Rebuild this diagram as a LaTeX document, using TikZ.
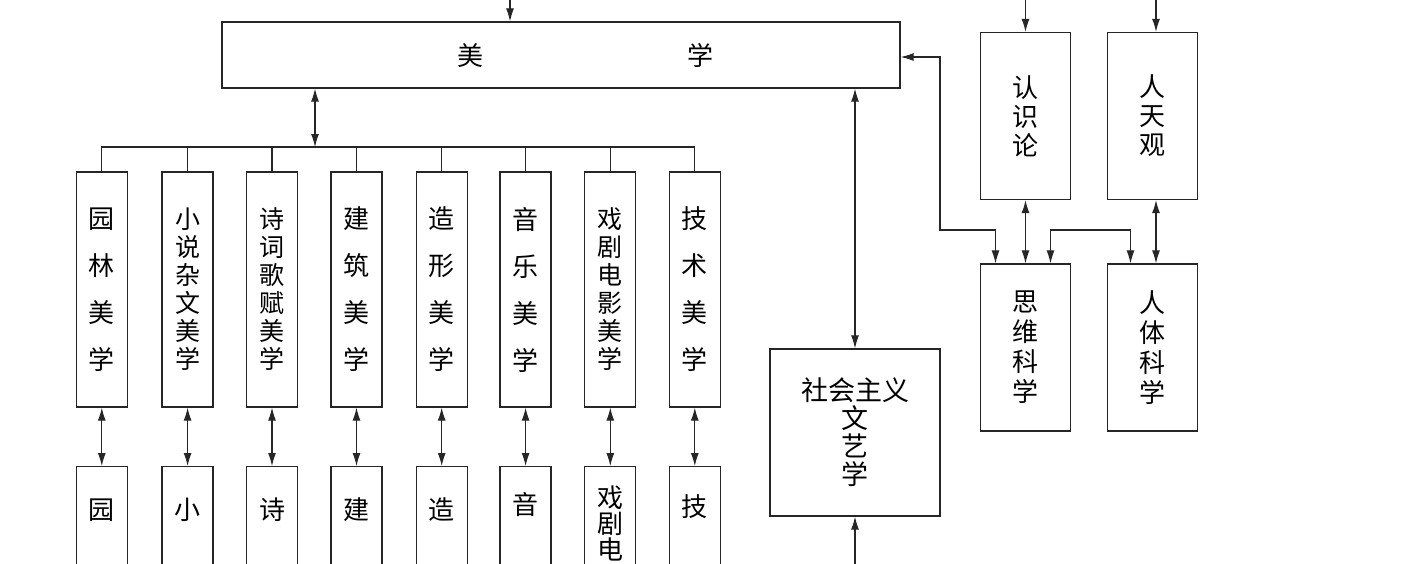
\documentclass[tikz,border=0pt]{standalone}
\usepackage{fontspec}
\newfontfamily\cjk{Noto Sans CJK SC}
\usepackage{tikz}
\usetikzlibrary{arrows.meta,positioning,calc}

\begin{document}
\begin{tikzpicture}[
    x=1pt,y=-1pt,
    box/.style={draw=black!85, line width=1.3pt, fill=white, inner sep=0pt, align=center, font=\cjk\fontsize{26}{28}\selectfont},
    colbox/.style={box, minimum width=51pt, minimum height=235pt},
    sparse/.style={font=\cjk\fontsize{26}{47}\selectfont},
    dense/.style={font=\cjk\fontsize{25}{28}\selectfont},
    lowbox/.style={box, anchor=north, minimum width=51pt, minimum height=160pt},
    lowtext/.style={inner sep=0pt, align=center, font=\cjk\fontsize{26}{26}\selectfont},
    sidebox/.style={box, minimum width=90pt, minimum height=167pt},
    link/.style={draw=black!85, line width=1.1pt},
    arr/.style={link, -{Latex[length=13pt,width=8pt]}},
    bi/.style={link, {Latex[length=13pt,width=8pt]}-{Latex[length=13pt,width=8pt]}}
  ]
    \path[use as bounding box] (0,0) rectangle (1408,563);
    \clip (0,0) rectangle (1408,563);

    % main box
    \node[box, minimum width=678pt, minimum height=66pt] (meixue) at (561,55) {\hspace*{48pt}美\hspace{204pt}学};

    % branches
    \foreach \i/\x/\s/\t in {1/101.8/sparse/{园\\林\\美\\学}, 2/187.6/dense/{小\\说\\杂\\文\\美\\学},
        3/272/dense/{诗\\词\\歌\\赋\\美\\学}, 4/356.5/sparse/{建\\筑\\美\\学},
        5/441.7/sparse/{造\\形\\美\\学}, 6/525.6/sparse/{音\\乐\\美\\学},
        7/610.3/dense/{戏\\剧\\电\\影\\美\\学}, 8/694.8/sparse/{技\\术\\美\\学}} {
      \node[colbox,\s] (c\i) at (\x,289.5) {\t};
      \node[lowbox] (l\i) at (\x,466) {};
    }
    \foreach \i/\x/\t/\y in {1/101.8/园/510, 2/187.6/小/510, 3/272/诗/510, 4/356.5/建/510,
        5/441.7/造/510, 6/525.6/音/505, 7/610.3/{戏\\剧\\电}/523, 8/694.8/技/507}
      \node[lowtext] (lt\i) at (\x,\y) {\t};

    % right part
    \node[box, minimum width=170pt, minimum height=167pt, font=\cjk\fontsize{27}{28}\selectfont] (shzy) at (855,432.5) {社会主义\\文\\艺\\学};
    \node[sidebox, font=\cjk\fontsize{26}{29}\selectfont] (rsl) at (1025.5,116) {认\\识\\论};
    \node[sidebox, font=\cjk\fontsize{26}{29}\selectfont] (rtg) at (1152.5,116) {人\\天\\观};
    \node[sidebox, font=\cjk\fontsize{26}{30}\selectfont] (swkx) at (1025.5,347.5) {思\\维\\科\\学};
    \node[sidebox, font=\cjk\fontsize{26}{30}\selectfont] (rtkx) at (1152.5,347.5) {人\\体\\科\\学};

    % connectors
    \coordinate (top1) at (510,-10);
    \coordinate (top2) at (1025.5,-10);
    \coordinate (top3) at (1156,-10);
    \coordinate (bot) at (855,580);
    \coordinate (bus) at (315,147);
    \coordinate (j1) at (940,230);
    \coordinate (j2) at (1090,230);

    \draw[arr] (top1) -- (top1 |- meixue.north);
    \draw[arr] (top2) -- (rsl.north);
    \draw[arr] (top3) -- (top3 |- rtg.north);
    \draw[arr] (bot) -- (shzy.south);
    \draw[bi] (meixue.south -| shzy.north) -- (shzy.north);

    \draw[bi] (meixue.south -| bus) -- (bus);
    \draw[link] (c1.north) |- (bus) -| (c8.north);
    \foreach \i in {2,...,7}
      \draw[link] (c\i.north) -- (c\i.north |- bus);
    \foreach \i in {1,...,8}
      \draw[bi] (c\i.south) -- (l\i.north);

    \draw[bi] (rsl.south) -- (swkx.north);
    \draw[bi] ([xshift=3.5pt]rtg.south) -- ([xshift=3.5pt]rtkx.north);
    \draw[bi] ([yshift=-2pt]meixue.east) -| (j1) -| ([xshift=-30pt]swkx.north);
    \draw[bi] ([xshift=25pt]swkx.north) |- (j2) -| ([xshift=-22pt]rtkx.north);
  \end{tikzpicture}
\end{document}
